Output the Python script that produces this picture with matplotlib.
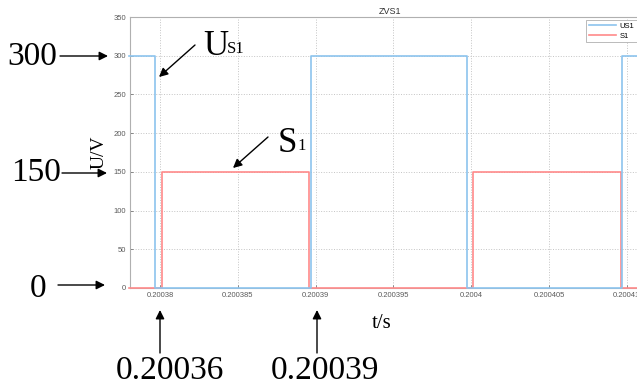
import matplotlib
matplotlib.use("Agg")
import matplotlib.pyplot as plt

plt.rcParams["font.family"] = ["Liberation Sans", "DejaVu Sans"]

# ==========================================
# DATA
# ==========================================

# switching edges of US1 (steps-post)
us1_t = [0.200378, 0.2003797, 0.2003897, 0.2003997, 0.2004097, 0.2004115]
us1_v = [300, 0, 300, 0, 300, 300]

# switching edges of S1 (steps-post)
s1_t = [0.200378, 0.2003801, 0.2003896, 0.2004001, 0.2004096, 0.2004115]
s1_v = [0, 150, 0, 150, 0, 0]

x_ticks = [0.20038, 0.200385, 0.20039, 0.200395, 0.2004, 0.200405, 0.20041]
y_ticks = [0, 50, 100, 150, 200, 250, 300, 350]

W, H = 637, 387

# ==========================================
# FIGURE
# ==========================================

fig = plt.figure(figsize=(W / 100, H / 100), dpi=100)
fig.patch.set_facecolor("white")

# axes run past the right edge of the picture, as in the screenshot
ax = fig.add_axes([130 / W, 99 / H, 520 / W, 271 / H])

ax.plot(s1_t, s1_v, drawstyle="steps-post", color="#ff8a8a",
        lw=1.2, label="S1", clip_on=False, zorder=3)
ax.plot(us1_t, us1_v, drawstyle="steps-post", color="#8cc4ee",
        lw=1.2, label="US1", clip_on=False, zorder=4)

ax.set_xlim(0.20037807, 0.20041149)
ax.set_ylim(0, 350)
ax.set_xticks(x_ticks)
ax.set_xticklabels(["%g" % v for v in x_ticks])
ax.set_yticks(y_ticks)

ax.tick_params(direction="in", length=2, width=0.5, labelsize=5.5,
               colors="#5a5a5a", pad=3)
for s in ax.spines.values():
    s.set_color("#b0b0b0")
    s.set_linewidth(0.8)

ax.grid(True, color="#c4c4c4", linestyle=":", lw=0.7)
ax.set_axisbelow(True)

ax.set_title("ZVS1", fontsize=6.5, color="#333333", pad=2)

# legend (order as in the picture: US1 first)
h, l = ax.get_legend_handles_labels()
leg = ax.legend(h[::-1], l[::-1], loc="upper left",
                bbox_to_anchor=(586 / W, 1 - 20 / H),
                bbox_transform=fig.transFigure,
                fontsize=5.5, handlelength=3.6, handletextpad=0.4,
                fancybox=False, borderpad=0.35, borderaxespad=0,
                labelspacing=0.3, framealpha=1)
leg.get_frame().set_edgecolor("#b0b0b0")
leg.get_frame().set_linewidth(0.6)

# ==========================================
# ANNOTATIONS (pixel positions from the top of the picture)
# ==========================================

serif = "Liberation Serif"


def px(x, y):
    return (x, H - y)


arrow = dict(arrowstyle="-|>", color="black", lw=1, mutation_scale=13,
             shrinkA=0, shrinkB=0)


def label(txt, x, y, size=24, **kw):
    fig.text(x / W, 1 - y / H, txt, fontsize=size, family=serif,
             ha="center", va="center", **kw)


def arr(x0, y0, x1, y1):
    ax.annotate("", xy=px(x1, y1), xytext=px(x0, y0),
                xycoords="figure pixels", textcoords="figure pixels",
                arrowprops=arrow, annotation_clip=False)


label("300", 32, 57)
arr(60, 56, 108, 56)

label("150", 36, 173)
arr(62, 173, 107, 173)

label("0", 38, 289)
arr(58, 285, 105, 285)

label("0.20036", 170, 371)
arr(160, 353, 160, 310)

label("0.20039", 325, 371)
arr(317, 353, 317, 310)

label("t/s", 382, 323, size=15)
label("U/V", 99, 152, size=14, rotation=90)

# U_S1 and S_1 labels
fig.text(203 / W, 1 - 55 / H, "U", fontsize=25, family=serif,
         ha="left", va="baseline")
fig.text(227 / W, 1 - 53 / H, "S1", fontsize=12, family=serif,
         ha="left", va="baseline")
arr(195, 45, 159, 77)

fig.text(278 / W, 1 - 152 / H, "S", fontsize=25, family=serif,
         ha="left", va="baseline")
fig.text(297 / W, 1 - 150 / H, "1", fontsize=12, family=serif,
         ha="left", va="baseline")
arr(268, 137, 233, 168)

plt.savefig("out.png", dpi=100)
